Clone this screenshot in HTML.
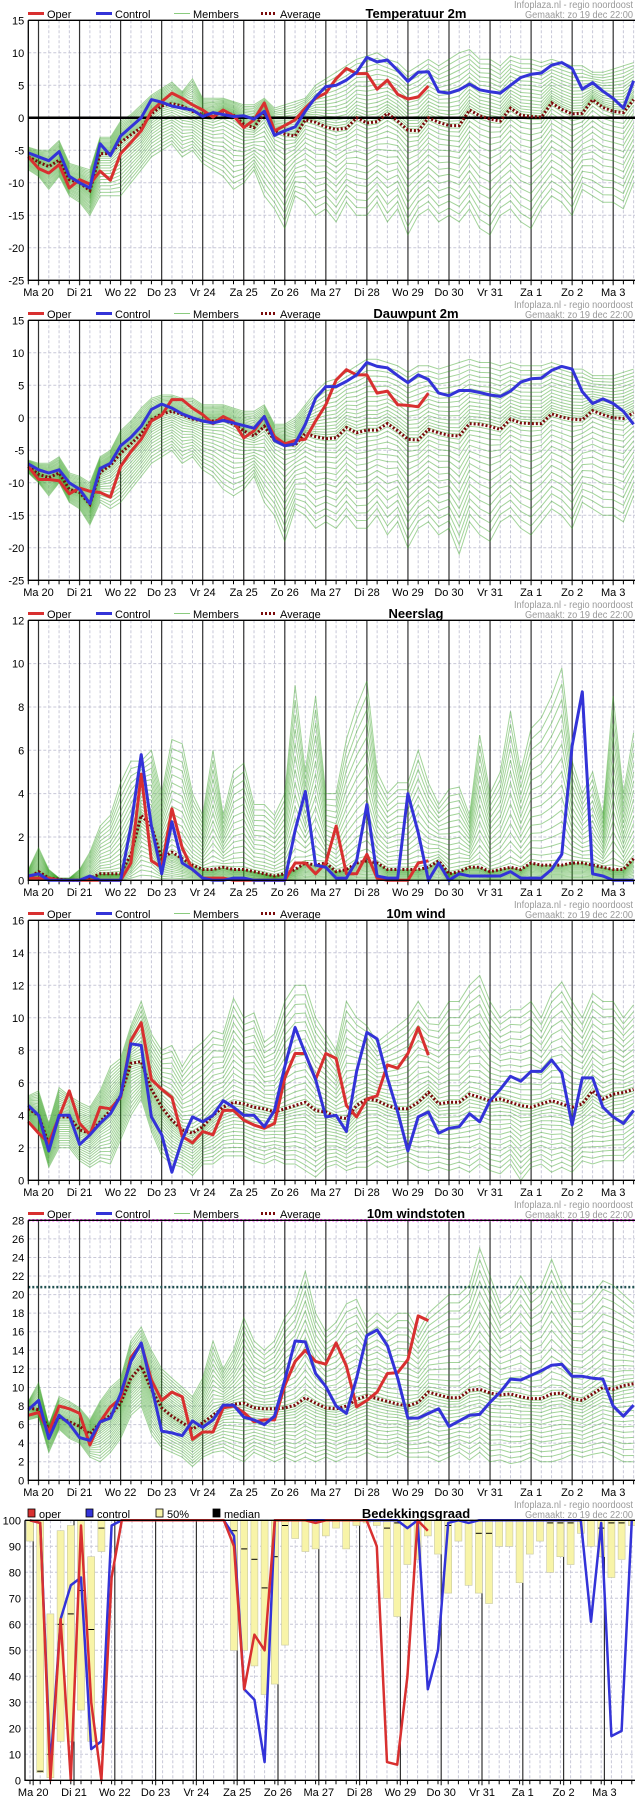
<!DOCTYPE html>
<html><head><meta charset="utf-8">
<style>
html,body{margin:0;padding:0;background:#fff;}
svg{display:block;font-family:"Liberation Sans",sans-serif;}
</style></head>
<body>
<svg id="root" width="635" height="1800" viewBox="0 0 635 1800" xmlns="http://www.w3.org/2000/svg"></svg>
<script>
const days=["Ma 20","Di 21","Wo 22","Do 23","Vr 24","Za 25","Zo 26","Ma 27","Di 28","Wo 29","Do 30","Vr 31","Za 1","Zo 2","Ma 3"];
// ---- Temperatuur 2m
const tOper=[-6,-7.8,-8.5,-7.2,-10.8,-9.5,-10.2,-8.2,-9.6,-5.5,-3.8,-2,1,2.5,3.8,3,2,1.2,0.1,1.2,0.3,-1.5,-0.3,2.3,-2,-1.2,-0.3,1.5,3,3.8,6,7.6,6.8,6.8,4.4,5.8,3.6,2.9,3.2,4.9];
const tCtrl=[-5.4,-6,-6.6,-5.2,-9,-10,-10.8,-4,-5.8,-2.8,-1.4,0,2.8,2.4,1.8,1.5,1.2,0.2,0.8,0.5,0.2,0.3,-0.2,1,-2.7,-2,-1.4,1,3.2,4.8,5,5.8,7,9.3,8.6,8.9,7.3,5.6,7,7.1,4,3.8,4.3,5.2,4.3,4,3.8,5,6.2,6.7,6.9,8.1,8.5,7.6,4.4,5.4,4.1,3,1.5,5.7];
const tAvg=[-6,-6.8,-7.5,-6.5,-9.5,-10,-11.2,-5.5,-5.5,-3.8,-2.6,-1.5,0.6,1.8,2.2,1.8,1,0.5,0.2,1,0.4,-1,-1.5,0.7,-2,-2.5,-2.8,-0.3,-0.7,-1.4,-1.8,-1.6,0,-0.8,-0.6,0.7,-0.5,-1.9,-2,0,-0.7,-1.2,-1.2,1.2,0.3,-0.2,-0.5,1.5,0.4,0.2,0.1,2.3,1.3,0.6,0.7,2.8,1.6,1,0.8,2.8];
const tUp=[-4.5,-5,-5,-3.5,-7,-7.5,-8,-3,-3,-0.5,0.5,2,3.5,4.5,5.5,4,6,3,3,3,2.5,2,2,3,1.5,2,2.5,3,5,6,7,8,9,9.5,10,9,8.5,7,8,9,8,9,10,10.5,9,9,8,9.5,9,9,8.5,9,8.5,8,8,7,7,7.5,8,8.5];
const tLo=[-8,-9,-11,-9,-12,-13,-15,-12,-12,-12,-10,-8,-6,-5,-4,-6,-5,-7,-8,-9,-11,-10,-8,-12,-14,-17,-12,-13,-15,-14,-16,-13,-15,-15,-13,-16,-14,-18,-15,-14,-16,-15,-16,-14,-17,-18,-15,-14,-16,-17,-14,-12,-13,-15,-11,-12,-13,-13,-14,-10];
// ---- Dauwpunt 2m
const dOper=[-7.5,-9.5,-9.5,-9.7,-11.7,-10.8,-11.3,-11.5,-12.2,-7.5,-5.2,-3.3,-0.5,0.4,2.8,2.8,1.5,0.5,-0.9,0.2,-0.6,-3.1,-2,0.2,-2.9,-4,-3.5,-3.3,-0.5,2,5.8,7.4,6.6,6.6,3.8,4.1,2,1.9,1.7,3.8];
const dCtrl=[-7.1,-8,-8.5,-8,-10,-11,-13.2,-7.8,-7,-4.3,-3,-1.3,1.3,2.1,1.5,0.6,0,-0.5,-0.8,-0.4,-0.8,-1.2,-1.6,0.2,-3.5,-4.3,-4,-1,3,4.8,4.8,5.6,6.6,8.5,7.9,7.7,6.5,5.4,6.6,5.9,3.8,3.4,4.2,4.2,3.9,3.5,3.3,4.1,5.5,6,6.1,7.3,7.9,7.5,4,2.2,2.9,2.2,1,-1];
const dAvg=[-7.5,-8.7,-9.2,-8.5,-11,-11.5,-13.3,-8.4,-7.3,-5.5,-4,-2.5,-0.3,0.6,1,0.5,-0.2,-0.5,-0.5,-0.3,-1,-2,-2.8,-1.3,-3.5,-4,-4.2,-2.4,-2.9,-3.2,-3.1,-1.5,-2.3,-1.9,-1.9,-0.9,-2,-3.3,-3.4,-1.8,-2.3,-2.7,-2.8,-0.9,-1,-1.3,-1.8,-0.2,-0.8,-0.9,-0.9,0.6,0.1,-0.2,-0.3,1.1,0.5,0,-0.1,0.8];
const dUp=[-6.5,-7,-7,-6,-8.5,-9,-10,-6,-5,-2,-0.5,1.5,3,3.5,3.5,3,3,2,2,2,1.5,1,1,2,-1,-1,0,2,4,5.5,6,7,8,9,9,8.5,8,7,8,8,7.5,8,8.5,9,8.5,8.5,8,8.5,8,8,8,8.5,8,7.5,7.5,6.5,6.5,6.5,7,7.5];
const dLo=[-8.5,-10,-12,-10,-13,-14,-16.5,-13,-14,-13,-11,-9,-7,-6,-5,-7,-6,-8,-9,-11,-12,-11,-9,-13,-15,-19,-14,-15,-17,-16,-17,-15,-17,-17,-15,-18,-16,-20,-17,-16,-18,-17,-21,-16,-18,-19,-16,-15,-17,-18,-16,-14,-15,-17,-13,-14,-15,-15,-16,-12];
// ---- Neerslag
const pOper=[0.1,0.1,0.1,0,0,0,0,0,0,0,0.8,4.9,0.9,0.6,3.3,1.5,0.5,0.1,0.1,0.1,0,0,0,0,0,0,0.8,0.8,0.3,0.8,2.5,0.3,0.3,1.2,0.1,0,0,0,0.8,0.9];
const pCtrl=[0.2,0.3,0,0,0,0,0.2,0,0,0,2.5,5.8,2.5,0.3,2.7,0.8,0.5,0.1,0,0,0.1,0.1,0,0,0,0,2.3,4.1,0.7,0.6,0.1,0.1,0.9,3.5,0.2,0.1,0.1,4,2.2,0,0.8,0,0.3,0.2,0.2,0.2,0.2,0.4,0.1,0.1,0.1,0.5,1.2,6.2,8.7,0.3,0.2,0,0,0];
const pAvg=[0.1,0.4,0.1,0.05,0,0,0.1,0.3,0.3,0.3,1.2,3,2.5,1,1.3,1,0.7,0.5,0.5,0.6,0.5,0.5,0.4,0.3,0.2,0.3,0.5,0.8,0.7,0.8,0.4,0.5,0.8,0.9,0.8,0.5,0.5,0.5,0.5,0.6,0.9,0.3,0.4,0.6,0.6,0.4,0.5,0.6,0.5,0.8,0.7,0.7,0.7,0.8,0.8,0.7,0.6,0.5,0.5,1];
const pUp=[0.5,1.5,0.5,0.1,0.1,0.5,1.3,2.5,3,4.5,5.5,5.5,6,4,6.5,6.3,4,3,6,3,5,5.4,3.5,3.5,3,4,9,5,8.5,4,4,6.5,8,9.2,5,4,4.5,4.5,6,4.5,3.5,4.2,4.3,3,6.7,4,5,7.8,5,7,7.5,8.5,9.8,5.5,4,5,3,8.5,4,6.8];
const pLo=[0,0,0,0,0,0,0,0,0,0,0,0,0,0,0,0,0,0,0,0,0,0,0,0,0,0,0,0,0,0,0,0,0,0,0,0,0,0,0,0,0,0,0,0,0,0,0,0,0,0,0,0,0,0,0,0,0,0,0,0];
// ---- 10m wind
const wOper=[3.6,2.9,2.3,3.9,5.5,3.5,2.8,4.5,4.4,5.1,8.6,9.7,6.2,5.6,5.1,2.7,2.3,3,2.8,4.3,4.3,3.7,3.4,3.2,3.5,6.3,7.8,7.8,6.2,7.8,7.5,4.6,3.9,5,5.2,7.1,6.9,7.8,9.4,7.7];
const wCtrl=[4.6,4,1.8,4,4,2.2,2.8,3.5,4.1,5.2,8.4,8.3,3.9,2.8,0.5,2.5,3.9,3.6,4,4.9,4.5,4,4,3.3,4.3,7,9.4,7.8,6.2,3.9,4,3,6.7,9.1,8.7,6.3,4.2,1.8,3.9,4.2,2.9,3.2,3.3,4.1,3.6,4.9,5.6,6.4,6.1,6.7,6.7,7.4,6.6,3.4,6.3,6.3,4.5,3.9,3.5,4.3];
const wAvg=[4.4,4,2.2,3.9,3.9,3.1,2.9,3.6,4.3,5.2,7.2,7.3,5.6,4.5,3.7,3.1,2.9,3.3,4,4.5,4.8,4.7,4.5,4.4,4.2,4.4,4.6,4.8,4.3,4.2,3.9,3.8,4.6,5,4.9,4.6,4.4,4.4,4.8,5.4,4.7,4.8,4.8,5.3,5.1,4.9,5,4.8,4.6,4.5,4.7,4.9,4.7,4.5,4.7,5.5,5,5.3,5.4,5.6];
const wUp=[5.2,5.5,3.5,5.7,5.2,4.8,4.5,5.5,7,7.5,9.5,11,9,8,8.3,7,8,8.5,9.2,9,11.2,10,10.3,8.5,9,11,12,12,10,9,8,11,10,9.5,8.5,9,9.5,10,11,10,10,11,11,12,12.6,11,10,10.5,10.5,11,10,11.5,12.2,11,10,11.5,11,11,10,10.8];
const wLo=[3.8,3,0.8,2,2,1.2,0.8,1.2,1,2.5,4,5,3,1.5,1,0.8,0.3,1,1,1.5,1.5,1.5,1.2,1,1.3,1,1,0.6,0.2,0.8,1,0.6,0.8,0.8,1.2,0.8,1,1.2,0.8,0.6,0.8,0.6,0.8,0.5,1,0.6,0.4,1,0,0.8,1,0.5,0.8,0.5,1.2,1,1.2,1.2,1.2,1.8];
// ---- 10m windstoten
const gOper=[7,7.3,5.2,8,7.7,7.2,3.8,6.3,7.9,8.8,13.2,14.7,10.8,8.6,9.5,9,4.4,5.2,5.2,7.8,8,7.3,6.3,6.5,6.5,10.2,12.8,14,12.8,12.5,14.8,12.3,7.9,8.6,9.5,11.5,11.6,13,17.7,17.2];
const gCtrl=[7.6,8.6,4.5,7,6.1,4.6,4.3,6.3,6.7,9.3,12.8,14.8,10.2,5.3,5.1,4.8,6.4,5.7,6.5,8.1,8.1,6.8,6.5,6,6.9,10.8,15,14.9,11.5,10.1,8,7.2,11,15.6,16.2,14.5,11,6.7,6.7,7.2,7.7,5.8,6.4,7,7.1,8.4,9.5,10.9,10.8,11.3,11.8,12.4,12.5,11.2,11.2,11,10.9,8,6.9,8.1];
const gAvg=[7.8,7.6,5.5,6.8,6.3,5.8,5,6.2,7,8.3,11,12.3,9.8,7.8,6.9,6.2,5.5,6.2,7,7.8,8.2,8.3,7.8,7.7,7.7,7.8,8.1,8.9,8.3,7.8,7.7,8,8.7,9.1,8.8,8.5,8.2,8,8.4,9.5,9.2,8.9,8.9,9.7,9.8,9.4,9.2,9.3,9,8.8,8.8,9.3,9.4,8.8,8.6,9.3,10,9.8,10.2,10.4];
const gUp=[8.5,10.5,6,9,8.5,7.8,6.5,8.5,10,11,15,16.5,14,12,11,10,9,11,15,12,14,17.5,15,14,15,17.5,19,22.5,18,16,17,19,19.5,17,18,17,18,18,16,18,19,20,20,21,25,22,19,20,22,20,21,23.8,21,19,19,20,21.5,21,20,19];
const gLo=[6.5,6.8,3,5.5,4.5,4,2.5,2,3,4.5,7,8,5,3.5,3,2.5,1.5,2.5,3,3.2,2.5,2,3,2.5,2,2.5,2,2.5,2,2.5,2,2.5,2.5,3,2.5,2.5,3,2.5,2.5,2.5,2,2.5,3,2.2,3,2,2.2,1.8,2,2.5,2,2,2.3,2.8,2.5,2.8,3,2.6,2,2];
const gustWarn=[20.8];
// ---- Bedekkingsgraad
const cOper=[100,99,0,62,0,98,30,0,78,100,100,100,100,100,100,100,100,100,100,100,90,35,56,50,100,100,100,100,99,100,100,100,100,100,90,7,6,40,100,96];
const cCtrl=[100,99,5,62,75,78,12,15,98,100,100,100,100,100,100,100,100,100,100,100,94,35,31,7,100,100,100,100,100,100,100,100,100,100,100,100,100,97,100,35,50,99,100,99,100,100,100,100,100,100,100,100,100,100,100,61,99,17,19,100];
const cBarTop=[100,100,64,96,98,100,86,100,100,100,100,100,100,100,100,100,100,100,100,100,100,100,100,100,100,100,100,100,100,100,100,100,100,100,100,100,100,100,100,100,100,100,100,100,100,100,100,100,100,100,100,100,100,100,100,100,100,100,100,100];
const cBarBot=[92,3,1,15,15,27,15,88,100,100,100,100,100,100,100,100,100,100,100,100,50,50,44,33,37,52,93,88,89,94,97,89,98,99,98,70,63,83,85,94,87,72,92,75,72,68,90,90,76,87,92,80,86,83,95,90,86,78,85,98];
const cMed=[100,3.5,10,60,64,73,58,97,100,100,100,100,100,100,100,100,100,100,100,100,96,89,85,74,86,98,100,100,100,100,100,100,100,100,100,97,99,100,100,100,100,98,100,99,95,95,100,100,100,100,100,99,99,99,100,100,97,99,99,100];

const NS="http://www.w3.org/2000/svg";
const root=document.getElementById('root');
function mk(tag,attrs,parent){const e=document.createElementNS(NS,tag);for(const k in attrs)e.setAttribute(k,attrs[k]);(parent||root).appendChild(e);return e;}
function txt(s,attrs,parent){const e=mk('text',attrs,parent);e.textContent=s;return e;}

const memberFracs=[];
for(let k=1;k<=16;k++){memberFracs.push(-Math.pow(k/16,1.3));memberFracs.push(Math.pow(k/16,1.3));}

function drawPanel(off,cfg){
  const g=mk('g',{});
  
  
  const L=cfg.left, R=635, T=off+20.3, B=off+280.3;
  const xs=i=>cfg.x0+cfg.dx*i;
  const ys=v=>B-(v-cfg.min)/(cfg.max-cfg.min)*(B-T);
  for(let v=cfg.min;v<=cfg.max+0.001;v+=cfg.step){
    const gl=mk('line',{x1:L,x2:R,y1:ys(v),y2:ys(v),stroke:'#c8c8d8','stroke-width':1,'stroke-dasharray':'3,2'},g);
    
    
    const tl=txt(String(v),{x:L-4,y:ys(v)+4,'text-anchor':'end','font-size':11,fill:'#000'},g);
    
    
  }
  for(let i=0;i<60;i++){
    const x=xs(i);
    if(x<L||x>R) continue;
    const vl=mk('line',{x1:x,x2:x,y1:T,y2:B,stroke:'#c8c8d8','stroke-width':1,'stroke-dasharray':'3,2'},g);
    
    
    const tk=mk('line',{x1:x,x2:x,y1:B,y2:B+4,stroke:'#000','stroke-width':1},g);
    
    
  }
  days.forEach((d,k)=>{
    const x=cfg.day0+cfg.dayW*k;
    const dl=mk('line',{x1:x,x2:x,y1:T,y2:B+5,stroke:'#333','stroke-width':1.2},g);
    
    
    const lb=txt(d,{x:x,y:off+296,'text-anchor':'middle','font-size':11,fill:'#000'},g);
    
    
  });
  const ln=(arr)=>arr.map((v,i)=>(i?'L':'M')+xs(i).toFixed(1)+','+ys(v).toFixed(1)).join('');
  if(cfg.type==='ens'){
    const mg=mk('g',{},g);
    
    
    memberFracs.forEach(f=>{
      const vals=cfg.avg.map((a,i)=>f>0?a+f*(cfg.up[i]-a):a+f*(a-cfg.lo[i]));
      const m=mk('path',{d:ln(vals),fill:'none',stroke:'rgba(50,160,30,0.45)','stroke-width':1},mg);
      
      
    });
    if(cfg.zero){
      const z=mk('line',{x1:L,x2:R,y1:ys(0),y2:ys(0),stroke:'#000','stroke-width':2.5},g);
      
      
    }
    (cfg.refs||[]).forEach(r=>{
      const rl=mk('line',{x1:L,x2:R,y1:ys(r.v),y2:ys(r.v),stroke:r.c,'stroke-width':2.5,'stroke-dasharray':'2,2'},g);
      
      
    });
    const av=mk('path',{d:ln(cfg.avg),fill:'none',stroke:'#7a0a0a','stroke-width':3,'stroke-dasharray':'2,2'},g);
    
    
    const op=mk('path',{d:ln(cfg.oper),fill:'none',stroke:'#d83030','stroke-width':3,'stroke-linejoin':'round'},g);
    
    
    const ct=mk('path',{d:ln(cfg.ctrl),fill:'none',stroke:'#3333d8','stroke-width':3,'stroke-linejoin':'round'},g);
    
    
    const lg=mk('g',{},g);
    
    
    const ly=off+13.5;
    const items=[['Oper','#d83030',3,null,28],['Control','#3333d8',3,null,96],['Members','rgba(60,170,40,0.6)',1,null,174],['Average','#7a0a0a',3,'2,2',261]];
    items.forEach(it=>{
      const l=mk('line',{x1:it[4],x2:it[4]+16,y1:ly,y2:ly,stroke:it[1],'stroke-width':it[2]},lg);
      if(it[3]) l.setAttribute('stroke-dasharray',it[3]);
      
      
      const t=txt(it[0],{x:it[4]+19,y:off+18,'font-size':11,fill:'#000'},lg);
      
      
    });
  } else {
    const bw=7;
    cfg.barTop.forEach((tp,i)=>{
      const bt=cfg.barBot[i];
      if(tp-bt<0.5) return;
      const r=mk('rect',{x:xs(i)-bw/2,y:ys(tp),width:bw,height:ys(bt)-ys(tp),fill:'#f8f4a8',stroke:'#c8c8a0','stroke-width':0.6},g);
      
      
    });
    cfg.med.forEach((m,i)=>{
      if(m>=99.9) return;
      const md=mk('line',{x1:xs(i)-3,x2:xs(i)+3,y1:ys(m),y2:ys(m),stroke:'#000','stroke-width':1},g);
      
      
    });
    const ct=mk('path',{d:ln(cfg.ctrl),fill:'none',stroke:'#3333d8','stroke-width':2.5,'stroke-linejoin':'round'},g);
    
    
    const op=mk('path',{d:ln(cfg.oper),fill:'none',stroke:'#d83030','stroke-width':2.5,'stroke-linejoin':'round'},g);
    
    
    const lg=mk('g',{},g);
    
    
    [['oper','#d83030',28],['control','#3333d8',86],['50%','#f8f4a8',156],['median','#000',213]].forEach(it=>{
      const s=mk('rect',{x:it[2],y:off+9,width:7,height:8,fill:it[1],stroke:'#000','stroke-width':0.8},lg);
      
      
      const t=txt(it[0],{x:it[2]+11,y:off+18,'font-size':11,fill:'#000'},lg);
      
      
    });
  }
  const ax=mk('path',{d:`M${L},${T}V${B}H${R}M${L},${T}H${R}`,fill:'none',stroke:'#000','stroke-width':1.3},g);
  
  
  const ti=txt(cfg.title,{x:416,y:off+18,'text-anchor':'middle','font-size':13,'font-weight':'bold',fill:'#000'},g);
  
  
  const s1=txt('Infoplaza.nl - regio noordoost',{x:633,y:off+8,'text-anchor':'end','font-size':10,fill:'#9a9a9a',textLength:119,lengthAdjust:'spacingAndGlyphs'},g);
  
  
  const s2=txt('Gemaakt: zo 19 dec 22:00',{x:633,y:off+18,'text-anchor':'end','font-size':10,fill:'#9a9a9a',textLength:108,lengthAdjust:'spacingAndGlyphs'},g);
  
  
}
const base={left:28.3,x0:28.3,dx:10.26,day0:38.5,dayW:41.05,type:'ens'};
drawPanel(0,Object.assign({},base,{name:'temperature',title:'Temperatuur 2m',min:-25,max:15,step:5,oper:tOper,ctrl:tCtrl,avg:tAvg,up:tUp,lo:tLo,zero:true}));
drawPanel(300,Object.assign({},base,{name:'dewpoint',title:'Dauwpunt 2m',min:-25,max:15,step:5,oper:dOper,ctrl:dCtrl,avg:dAvg,up:dUp,lo:dLo}));
drawPanel(600,Object.assign({},base,{name:'precipitation',title:'Neerslag',min:0,max:12,step:2,oper:pOper,ctrl:pCtrl,avg:pAvg,up:pUp,lo:pLo}));
drawPanel(900,Object.assign({},base,{name:'wind',title:'10m wind',min:0,max:16,step:2,oper:wOper,ctrl:wCtrl,avg:wAvg,up:wUp,lo:wLo}));
drawPanel(1200,Object.assign({},base,{name:'gusts',title:'10m windstoten',min:0,max:28,step:2,oper:gOper,ctrl:gCtrl,avg:gAvg,up:gUp,lo:gLo,refs:[{v:28,c:'#ff44ff'},{v:gustWarn[0],c:'#1f5050'}]}));
drawPanel(1500,{name:'cloud-cover',title:'Bedekkingsgraad',type:'bar',left:25,x0:30,dx:10.2,day0:33.2,dayW:40.8,min:0,max:100,step:10,oper:cOper,ctrl:cCtrl,barTop:cBarTop,barBot:cBarBot,med:cMed});
</script>
</body></html>
